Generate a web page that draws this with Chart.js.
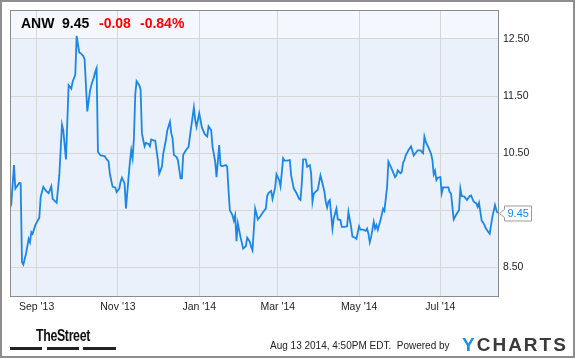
<!DOCTYPE html>
<html>
<head>
<meta charset="utf-8">
<script src="https://cdn.jsdelivr.net/npm/chart.js@4.4.1/dist/chart.umd.min.js"></script>
<style>
  body { margin: 0; background: #fff; }
  #wrap { position: relative; width: 575px; height: 358px; overflow: hidden; font-family: "Liberation Sans", Arial, sans-serif; }
  #chart { position: absolute; left: 0; top: 0; }
  #frame { position: absolute; left: 0; top: 0; width: 571px; height: 354px; border: 2px solid #8e8e8e; pointer-events: none; }
  .t { position: absolute; top: 16px; font-size: 14px; line-height: 14px; font-weight: bold; white-space: nowrap; }
  .red { color: #f00; }
  #ts { position: absolute; left: 36px; top: 327px; font-size: 17px; line-height: 17px; font-weight: bold; color: #111; transform-origin: 0 0; white-space: nowrap; letter-spacing: -0.5px; }
  .bar { position: absolute; top: 347px; height: 3px; background: #222; }
  #foot { position: absolute; left: 270px; top: 341px; font-size: 10px; line-height: 10px; color: #222; white-space: pre; }
  #yc { position: absolute; left: 462px; top: 335px; font-size: 19px; line-height: 19px; font-weight: bold; color: #3a3a3a; letter-spacing: 2px; white-space: nowrap; }
  #yc span { color: #1e90e6; }
</style>
</head>
<body>
<div id="wrap">
  <canvas id="chart" width="575" height="358"></canvas>
  <div id="frame"></div>
  <div class="t" style="left:21px">ANW</div>
  <div class="t" style="left:62px">9.45</div>
  <div class="t red" style="left:99px">-0.08</div>
  <div class="t red" style="left:140px">-0.84%</div>
  <div id="ts">TheStreet</div>
  <div class="bar" style="left:10px;width:32px"></div>
  <div class="bar" style="left:47px;width:32px"></div>
  <div class="bar" style="left:83px;width:33px"></div>
  <div id="foot">Aug 13 2014, 4:50PM EDT.  Powered by</div>
  <div id="yc"><span>Y</span>CHARTS</div>
</div>
<script>
// ANW daily close
var dates = [
  '2013-08-12','2013-08-13','2013-08-15','2013-08-16','2013-08-19','2013-08-20','2013-08-21','2013-08-22','2013-08-24','2013-08-26','2013-08-27','2013-08-28','2013-08-29','2013-08-31',
  '2013-09-03','2013-09-04','2013-09-06','2013-09-08','2013-09-10','2013-09-12','2013-09-13','2013-09-16','2013-09-18','2013-09-20','2013-09-21','2013-09-23','2013-09-25','2013-09-27','2013-09-28','2013-09-30',
  '2013-10-01','2013-10-03','2013-10-04','2013-10-06','2013-10-07','2013-10-09','2013-10-11','2013-10-12','2013-10-14','2013-10-15','2013-10-16','2013-10-17','2013-10-18','2013-10-19','2013-10-22','2013-10-23','2013-10-25','2013-10-26','2013-10-28','2013-10-30','2013-10-31',
  '2013-11-02','2013-11-03','2013-11-04','2013-11-06','2013-11-07','2013-11-09','2013-11-10','2013-11-11','2013-11-12','2013-11-13','2013-11-14','2013-11-15','2013-11-17','2013-11-18','2013-11-19','2013-11-20','2013-11-21','2013-11-22','2013-11-24','2013-11-25','2013-11-26','2013-11-28','2013-11-29',
  '2013-12-01','2013-12-02','2013-12-04','2013-12-05','2013-12-07','2013-12-08','2013-12-10','2013-12-11','2013-12-12','2013-12-13','2013-12-15','2013-12-16','2013-12-18','2013-12-19','2013-12-20','2013-12-22','2013-12-24','2013-12-25','2013-12-26','2013-12-28','2013-12-29','2013-12-30',
  '2014-01-01','2014-01-02','2014-01-03','2014-01-05','2014-01-06','2014-01-07','2014-01-08','2014-01-10','2014-01-11','2014-01-13','2014-01-14','2014-01-16','2014-01-17','2014-01-18','2014-01-21','2014-01-22','2014-01-23','2014-01-24','2014-01-26','2014-01-27','2014-01-28','2014-01-29','2014-01-30',
  '2014-02-01','2014-02-03','2014-02-05','2014-02-06','2014-02-08','2014-02-09','2014-02-10','2014-02-12','2014-02-14','2014-02-16','2014-02-18','2014-02-20','2014-02-21','2014-02-22','2014-02-24','2014-02-25','2014-02-27','2014-02-28',
  '2014-03-02','2014-03-03','2014-03-05','2014-03-06','2014-03-08','2014-03-10','2014-03-11','2014-03-13','2014-03-15','2014-03-17','2014-03-18','2014-03-19','2014-03-20','2014-03-22','2014-03-23','2014-03-25','2014-03-26','2014-03-27','2014-03-28','2014-03-30','2014-03-31',
  '2014-04-02','2014-04-03','2014-04-05','2014-04-06','2014-04-07','2014-04-08','2014-04-09','2014-04-11','2014-04-12','2014-04-14','2014-04-15','2014-04-17','2014-04-18','2014-04-20','2014-04-22','2014-04-23','2014-04-25','2014-04-26','2014-04-28','2014-04-29',
  '2014-05-01','2014-05-02','2014-05-04','2014-05-06','2014-05-07','2014-05-08','2014-05-09','2014-05-10','2014-05-12','2014-05-13','2014-05-14','2014-05-15','2014-05-17','2014-05-19','2014-05-20','2014-05-22','2014-05-23','2014-05-25','2014-05-28','2014-05-29','2014-05-30',
  '2014-06-01','2014-06-02','2014-06-03','2014-06-04','2014-06-05','2014-06-07','2014-06-09','2014-06-11','2014-06-12','2014-06-14','2014-06-16','2014-06-18','2014-06-19','2014-06-20','2014-06-22','2014-06-24','2014-06-25','2014-06-26','2014-06-27','2014-06-28','2014-06-29',
  '2014-07-01','2014-07-02','2014-07-03','2014-07-07','2014-07-08','2014-07-09','2014-07-11','2014-07-13','2014-07-15','2014-07-16','2014-07-17','2014-07-19','2014-07-21','2014-07-23','2014-07-24','2014-07-26','2014-07-28','2014-07-29','2014-07-30',
  '2014-08-01','2014-08-03','2014-08-04','2014-08-06','2014-08-07','2014-08-09','2014-08-11','2014-08-12','2014-08-13'
]
var prices = [
  9.70,9.63,10.29,9.88,9.98,9.97,8.59,8.55,8.74,9.00,8.94,9.12,9.09,9.24,
  9.37,9.73,9.91,9.84,9.80,9.92,9.70,9.63,10.11,11.00,10.90,10.39,11.69,11.63,11.75,11.87,
  12.55,12.26,12.25,12.20,12.14,11.23,11.58,11.69,11.83,11.93,11.99,10.52,10.49,10.46,10.45,10.41,10.35,10.13,9.91,9.90,9.82,
  9.88,10.00,10.07,9.97,9.53,10.08,10.35,10.55,10.41,10.76,11.52,11.76,11.69,11.62,10.85,10.73,10.62,10.68,10.66,10.62,10.74,10.72,10.72,
  10.38,10.14,10.26,10.49,10.73,10.89,11.05,10.85,10.76,10.47,10.43,10.38,10.06,10.06,10.47,10.55,10.61,10.79,10.96,11.30,11.08,10.96,
  11.20,11.08,10.95,10.84,10.81,10.79,10.97,10.90,10.61,10.35,10.08,10.64,10.29,10.27,10.29,10.26,9.85,9.50,9.41,9.32,9.41,8.96,9.27,
  9.03,8.83,8.87,9.02,8.95,8.86,8.80,9.53,9.34,9.40,9.47,9.53,9.75,9.80,9.84,9.70,9.90,10.13,
  10.03,9.92,10.41,10.37,10.37,10.38,10.11,9.88,9.80,9.70,9.68,9.97,10.39,10.39,10.26,10.29,10.15,9.65,9.79,9.84,9.86,
  10.11,10.02,9.82,9.65,9.55,9.65,9.68,9.18,9.36,9.53,9.34,9.33,9.21,9.21,9.22,9.47,9.21,9.04,9.02,9.00,
  9.22,9.16,9.16,9.14,9.18,9.09,8.94,9.03,9.30,9.18,9.24,9.16,9.32,9.53,9.49,9.91,10.35,10.25,10.08,10.11,10.20,
  10.15,10.17,10.33,10.38,10.46,10.55,10.62,10.46,10.49,10.55,10.55,10.50,10.79,10.70,10.60,10.49,10.38,10.13,10.19,10.03,10.07,
  10.08,9.80,9.90,9.90,9.82,9.79,9.34,9.43,9.50,9.88,9.75,9.74,9.68,9.75,9.76,9.65,9.62,9.56,9.63,
  9.32,9.25,9.19,9.12,9.09,9.38,9.59,9.50,9.45
]
var xTickDates = ['2013-09-01','2013-11-01','2014-01-01','2014-03-01','2014-05-01','2014-07-01']
var xTickLabels = ["Sep '13","Nov '13","Jan '14","Mar '14","May '14","Jul '14"]
var yTicks = [8.5, 9.5, 10.5, 11.5, 12.5]
var yTickLabels = ['8.50', '', '10.50', '11.50', '12.50']   // 9.50 sits under the price tag
var axisStart = '2013-08-12'
var axisEnd = '2014-08-14'

var lineColor = '#1a87e6'
var t0 = Date.UTC(2013, 7, 13)
function dayOf(s) {
  var p = s.split('-')
  return (Date.UTC(+p[0], +p[1] - 1, +p[2]) - t0) / 86400000
}

var points = dates.map(function (d, i) { return { x: dayOf(d), y: prices[i] } })

var plotBg = {
  id: 'plotBg',
  beforeDraw: function (chart) {
    var c = chart.ctx, a = chart.chartArea
    c.save()
    c.fillStyle = '#ebf1fb'
    c.fillRect(a.left, a.top, a.right - a.left, a.bottom - a.top)
    c.fillStyle = '#f4f7fd'
    c.fillRect(a.left, a.top, a.right - a.left, 28)
    c.restore()
  },
  afterDraw: function (chart) {
    var c = chart.ctx, a = chart.chartArea
    c.save()
    c.strokeStyle = '#8b8b8b'
    c.lineWidth = 1
    c.strokeRect(Math.round(a.left) + 0.5, Math.round(a.top) + 0.5, Math.round(a.right - a.left) - 1, Math.round(a.bottom - a.top))
    // last price tag
    var last = prices[prices.length - 1]
    var px = Math.round(a.right) + 0.5
    var py = Math.round(chart.scales.y.getPixelForValue(last)) + 0.5
    c.beginPath()
    c.moveTo(px, py)
    c.lineTo(px + 5, py - 4)
    c.lineTo(px + 5, py - 7.5)
    c.lineTo(px + 32, py - 7.5)
    c.lineTo(px + 32, py + 7.5)
    c.lineTo(px + 5, py + 7.5)
    c.lineTo(px + 5, py + 4)
    c.closePath()
    c.fillStyle = '#fff'
    c.fill()
    c.strokeStyle = '#9a9a9a'
    c.stroke()
    c.fillStyle = lineColor
    c.font = '11px "Liberation Sans", Arial, sans-serif'
    c.textBaseline = 'middle'
    c.fillText(last.toFixed(2), px + 8, py + 0.5)
    c.restore()
  }
}

new Chart(document.getElementById('chart'), {
  type: 'line',
  data: {
    datasets: [{
      data: points,
      borderColor: lineColor,
      borderWidth: 1.8,
      pointRadius: 0,
      tension: 0,
      fill: false
    }]
  },
  options: {
    responsive: false,
    animation: false,
    layout: { padding: { left: 10, top: 10, right: 0, bottom: 0 } },
    plugins: { legend: { display: false }, tooltip: { enabled: false } },
    scales: {
      x: {
        type: 'linear',
        min: dayOf(axisStart),
        max: dayOf(axisEnd),
        afterBuildTicks: function (s) { s.ticks = xTickDates.map(function (d) { return { value: dayOf(d) } }) },
        afterFit: function (s) { s.height = 62 },
        grid: { color: '#d6d6d6', drawTicks: false },
        border: { display: false },
        ticks: {
          autoSkip: false, maxRotation: 0, padding: 5, color: '#222',
          font: { family: '"Liberation Sans", Arial, sans-serif', size: 10.5 },
          callback: function (v, i) { return xTickLabels[i] }
        }
      },
      y: {
        position: 'right',
        min: 8,
        max: 13,
        afterBuildTicks: function (s) { s.ticks = yTicks.map(function (v) { return { value: v } }) },
        afterFit: function (s) { s.width = 76 },
        grid: { color: '#d6d6d6', drawTicks: false },
        border: { display: false },
        ticks: {
          padding: 4, color: '#222',
          font: { family: '"Liberation Sans", Arial, sans-serif', size: 10.5 },
          callback: function (v, i) { return yTickLabels[i] }
        }
      }
    }
  },
  plugins: [plotBg]
})

var ts = document.getElementById('ts')
ts.style.transform = 'scaleX(' + (54 / ts.offsetWidth) + ')'
</script>
</body>
</html>
